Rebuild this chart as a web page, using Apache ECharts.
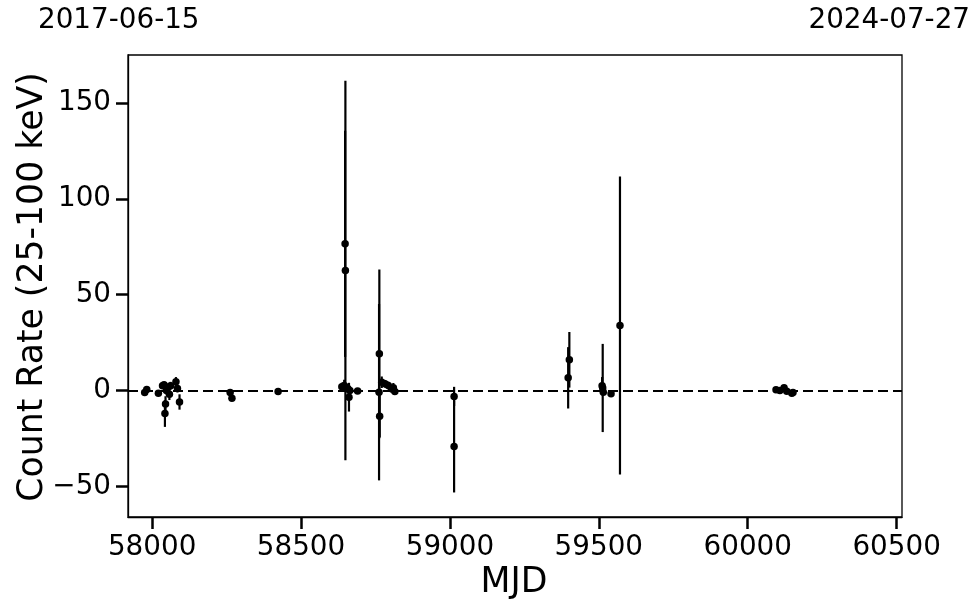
<!DOCTYPE html>
<html>
<head>
<meta charset="utf-8">
<script src="https://cdn.jsdelivr.net/npm/echarts@6/dist/echarts.min.js"></script>
<style>html,body{margin:0;padding:0;background:#fff}#c{width:980px;height:613px}</style>
</head>
<body>
<div id="c"></div>
<script>
// Data
var mjd  = [57975, 57982, 58021, 58035, 58040, 58043, 58045, 58048, 58052, 58058, 58062, 58080, 58085, 58092,
            58262, 58268, 58423,
            58637, 58645, 58648, 58649, 58657, 58661, 58664, 58690,
            58763, 58764, 58762, 58771, 58782, 58793, 58804, 58810, 58815,
            59014, 59014,
            59397, 59401, 59511, 59513, 59515, 59541, 59571,
            60095, 60108, 60122, 60131, 60148, 60152];
var rate = [-1.0, 0.5, -1.5, 2.5, 3.0, -12.0, -7.0, 0.0, 1.5, -2.0, 2.5, 4.5, 1.0, -6.0,
            -1.0, -4.0, -0.5,
            2.0, 2.6, 76.5, 62.6, 1.0, -3.5, 0.0, -0.3,
            19.1, -13.4, -0.9, 4.3, 3.5, 2.6, 0.9, 1.4, -0.5,
            -3.1, -29.2,
            6.6, 16.0, 2.5, 1.3, -0.9, -1.7, 33.9,
            0.4, 0.0, 1.4, -0.4, -1.4, -1.0];
var err  = [1.0, 1.0, 1.0, 1.5, 1.5, 7.0, 4.0, 2.0, 2.0, 3.0, 2.0, 2.5, 2.0, 4.0,
            1.0, 1.5, 0.8,
            2.0, 3.0, 59, 99, 2.5, 7.5, 2.0, 1.5,
            44, 11, 46, 3.0, 2.0, 2.0, 2.0, 2.5, 1.5,
            5.0, 24,
            16, 14.5, 4.5, 23, 1.5, 1.0, 77.7,
            0.8, 0.8, 0.8, 1.0, 1.0, 1.0];
var xTicks = [58000, 58500, 59000, 59500, 60000, 60500];
var yTicks = [-50, 0, 50, 100, 150];
var xRange = [57919, 60518];
var yRange = [-66, 175];
var dateLeft = '2017-06-15', dateRight = '2024-07-27';

var pts = mjd.map(function (m, i) { return [m, rate[i], err[i]]; });
var FONT = 'DejaVu Sans';
var minus = function (v) { return String(v).replace('-', '\u2212'); };

var chart = echarts.init(document.getElementById('c'), null, {renderer: 'canvas'});
chart.setOption({
  animation: false,
  backgroundColor: '#fff',
  grid: {left: 128, right: 78, top: 55, bottom: 96, show: true, borderColor: '#000', borderWidth: 1.3, backgroundColor: 'transparent'},
  xAxis: {
    type: 'value', min: xRange[0], max: xRange[1],
    splitLine: {show: false},
    axisLine: {show: true, onZero: false, lineStyle: {color: '#000', width: 1.3}},
    axisTick: {show: true, length: 12, lineStyle: {color: '#000', width: 2.5}, customValues: xTicks},
    axisLabel: {customValues: xTicks, fontSize: 27.8, color: '#000', fontFamily: FONT, margin: 17, formatter: minus}
  },
  yAxis: {
    type: 'value', min: yRange[0], max: yRange[1],
    splitLine: {show: false},
    axisLine: {show: true, onZero: false, lineStyle: {color: '#000', width: 1.3}},
    axisTick: {show: true, length: 12, lineStyle: {color: '#000', width: 2.5}, customValues: yTicks},
    axisLabel: {customValues: yTicks, fontSize: 27.8, color: '#000', fontFamily: FONT, margin: 17, formatter: minus}
  },
  graphic: [
    {type: 'text', left: 38, top: 7, style: {text: dateLeft, font: '27.8px "DejaVu Sans"', fill: '#000'}},
    {type: 'text', right: 10, top: 7, style: {text: dateRight, font: '27.8px "DejaVu Sans"', fill: '#000'}},
    {type: 'text', x: 514, y: 583, style: {text: 'MJD', font: '34.7px "DejaVu Sans"', fill: '#000', align: 'center', verticalAlign: 'middle'}},
    {type: 'text', x: 33, y: 287, rotation: Math.PI / 2, style: {text: 'Count Rate (25-100 keV)', font: '34.7px "DejaVu Sans"', fill: '#000', align: 'center', verticalAlign: 'middle'}}
  ],
  series: [
    {
      type: 'custom', clip: true, data: pts, z: 2,
      renderItem: function (params, api) {
        var x = api.value(0), y = api.value(1), e = api.value(2);
        var p1 = api.coord([x, y + e]), p2 = api.coord([x, y - e]);
        return {type: 'line', shape: {x1: p1[0], y1: p1[1], x2: p2[0], y2: p2[1]}, style: {stroke: '#000', lineWidth: 2.2}};
      }
    },
    {
      type: 'scatter', data: pts, symbol: 'circle', symbolSize: 7.5, z: 3,
      itemStyle: {color: '#000', opacity: 1},
      markLine: {
        silent: true, symbol: 'none', label: {show: false},
        lineStyle: {color: '#000', type: [10, 5], width: 2, opacity: 1},
        data: [{yAxis: 0}]
      }
    }
  ]
});
</script>
</body>
</html>
